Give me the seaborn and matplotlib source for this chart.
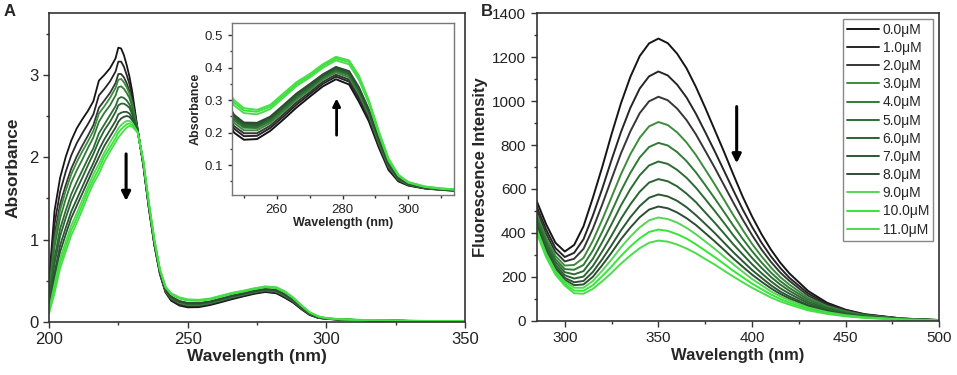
import pandas as pd
import matplotlib
matplotlib.use('Agg')
import matplotlib.pyplot as plt
from matplotlib.ticker import MultipleLocator
import seaborn as sns

# --- Titration series (one curve per concentration) ---
concentrations = ['0.0μM', '1.0μM', '2.0μM', '3.0μM', '4.0μM', '5.0μM',
                  '6.0μM', '7.0μM', '8.0μM', '9.0μM', '10.0μM', '11.0μM']
line_colors = ['#151515', '#262626', '#363636', '#3d8b3d', '#2f7a35', '#2e6b34',
               '#2b6332', '#2a5832', '#2d4d33', '#55d655', '#33e833', '#4add4a']

# --- Panel A: UV-vis absorbance, short-wave region (curves diverge) ---
uv_wl_short = [200, 202, 204, 206, 208, 210, 212, 214, 216, 218, 220, 222, 224,
               225, 226, 227, 228, 229, 230, 232]
uv_abs_short = [
    [0.50, 1.35, 1.75, 2.00, 2.20, 2.35, 2.46, 2.56, 2.68, 2.93, 3.00, 3.08, 3.20, 3.33, 3.32, 3.24, 3.12, 2.98, 2.80, 2.33],
    [0.44, 1.19, 1.58, 1.82, 2.02, 2.17, 2.29, 2.40, 2.52, 2.75, 2.83, 2.92, 3.04, 3.16, 3.16, 3.10, 3.00, 2.89, 2.73, 2.33],
    [0.38, 1.06, 1.43, 1.66, 1.86, 2.01, 2.14, 2.26, 2.39, 2.60, 2.69, 2.78, 2.90, 3.01, 3.01, 2.97, 2.90, 2.80, 2.67, 2.32],
    [0.36, 0.99, 1.36, 1.59, 1.79, 1.94, 2.07, 2.19, 2.32, 2.53, 2.62, 2.72, 2.84, 2.94, 2.95, 2.91, 2.85, 2.77, 2.65, 2.32],
    [0.32, 0.91, 1.26, 1.49, 1.69, 1.84, 1.97, 2.11, 2.24, 2.43, 2.54, 2.63, 2.75, 2.85, 2.86, 2.83, 2.78, 2.72, 2.61, 2.32],
    [0.27, 0.78, 1.13, 1.35, 1.55, 1.70, 1.84, 1.98, 2.11, 2.29, 2.40, 2.51, 2.62, 2.71, 2.73, 2.72, 2.69, 2.64, 2.56, 2.31],
    [0.24, 0.71, 1.04, 1.26, 1.46, 1.61, 1.75, 1.90, 2.04, 2.20, 2.33, 2.43, 2.55, 2.63, 2.65, 2.65, 2.63, 2.60, 2.52, 2.31],
    [0.20, 0.60, 0.93, 1.14, 1.34, 1.49, 1.64, 1.79, 1.93, 2.09, 2.22, 2.33, 2.44, 2.52, 2.54, 2.55, 2.55, 2.53, 2.48, 2.31],
    [0.17, 0.53, 0.85, 1.06, 1.26, 1.41, 1.56, 1.71, 1.86, 2.00, 2.14, 2.25, 2.36, 2.43, 2.47, 2.49, 2.50, 2.49, 2.45, 2.31],
    [0.14, 0.46, 0.77, 0.97, 1.17, 1.32, 1.48, 1.64, 1.79, 1.92, 2.06, 2.18, 2.29, 2.35, 2.39, 2.42, 2.44, 2.44, 2.42, 2.30],
    [0.12, 0.40, 0.71, 0.91, 1.11, 1.26, 1.42, 1.59, 1.73, 1.86, 2.01, 2.12, 2.23, 2.30, 2.34, 2.37, 2.40, 2.41, 2.39, 2.30],
    [0.10, 0.35, 0.65, 0.85, 1.05, 1.20, 1.36, 1.53, 1.68, 1.80, 1.95, 2.07, 2.18, 2.24, 2.28, 2.32, 2.36, 2.38, 2.37, 2.30],
]

# --- Panel A: long-wave region (also shown in the inset) ---
uv_wl_tail = [234, 236, 238, 240, 242, 244, 247, 250, 254, 258, 262, 266, 270, 274,
              278, 282, 285, 288, 291, 294, 297, 300, 305, 310, 316, 330, 350]
uv_abs_tail = [
    [1.90, 1.38, 0.93, 0.58, 0.36, 0.26, 0.200, 0.178, 0.180, 0.205, 0.240, 0.277, 0.310, 0.342, 0.364, 0.348, 0.295, 0.235, 0.155, 0.085, 0.050, 0.037, 0.028, 0.024, 0.020, 0.012, 0.008],
    [1.91, 1.39, 0.94, 0.59, 0.37, 0.27, 0.212, 0.189, 0.190, 0.214, 0.249, 0.286, 0.318, 0.350, 0.372, 0.357, 0.304, 0.243, 0.161, 0.089, 0.052, 0.038, 0.029, 0.024, 0.020, 0.012, 0.008],
    [1.91, 1.39, 0.94, 0.59, 0.37, 0.28, 0.220, 0.198, 0.198, 0.221, 0.256, 0.293, 0.324, 0.356, 0.378, 0.363, 0.311, 0.248, 0.165, 0.092, 0.054, 0.039, 0.029, 0.025, 0.021, 0.013, 0.008],
    [1.92, 1.40, 0.95, 0.60, 0.38, 0.29, 0.230, 0.207, 0.207, 0.229, 0.264, 0.301, 0.331, 0.363, 0.385, 0.370, 0.319, 0.255, 0.170, 0.096, 0.056, 0.040, 0.030, 0.025, 0.021, 0.013, 0.009],
    [1.92, 1.41, 0.96, 0.60, 0.39, 0.29, 0.238, 0.215, 0.214, 0.235, 0.270, 0.306, 0.336, 0.368, 0.390, 0.376, 0.325, 0.260, 0.174, 0.098, 0.058, 0.041, 0.030, 0.026, 0.022, 0.013, 0.009],
    [1.93, 1.41, 0.96, 0.61, 0.39, 0.30, 0.244, 0.220, 0.219, 0.240, 0.275, 0.311, 0.340, 0.372, 0.394, 0.380, 0.330, 0.263, 0.177, 0.100, 0.059, 0.042, 0.031, 0.026, 0.022, 0.013, 0.009],
    [1.93, 1.41, 0.96, 0.61, 0.39, 0.30, 0.248, 0.224, 0.223, 0.243, 0.278, 0.314, 0.343, 0.375, 0.397, 0.383, 0.333, 0.266, 0.179, 0.102, 0.060, 0.042, 0.031, 0.026, 0.022, 0.013, 0.009],
    [1.93, 1.42, 0.97, 0.61, 0.40, 0.31, 0.252, 0.229, 0.227, 0.247, 0.282, 0.318, 0.347, 0.377, 0.400, 0.387, 0.337, 0.269, 0.181, 0.103, 0.060, 0.043, 0.031, 0.026, 0.022, 0.014, 0.009],
    [1.93, 1.42, 0.97, 0.61, 0.40, 0.31, 0.255, 0.231, 0.230, 0.249, 0.284, 0.320, 0.349, 0.379, 0.402, 0.389, 0.339, 0.271, 0.183, 0.104, 0.061, 0.043, 0.031, 0.026, 0.022, 0.014, 0.009],
    [1.95, 1.44, 0.99, 0.63, 0.42, 0.34, 0.284, 0.260, 0.256, 0.272, 0.307, 0.343, 0.369, 0.399, 0.422, 0.410, 0.362, 0.290, 0.197, 0.114, 0.067, 0.046, 0.033, 0.027, 0.023, 0.015, 0.010],
    [1.96, 1.45, 1.00, 0.64, 0.43, 0.34, 0.293, 0.268, 0.264, 0.279, 0.314, 0.349, 0.375, 0.405, 0.428, 0.417, 0.369, 0.295, 0.201, 0.117, 0.069, 0.047, 0.034, 0.028, 0.024, 0.015, 0.010],
    [1.96, 1.45, 1.00, 0.64, 0.43, 0.35, 0.300, 0.275, 0.270, 0.285, 0.320, 0.355, 0.380, 0.410, 0.433, 0.422, 0.375, 0.300, 0.205, 0.120, 0.070, 0.048, 0.034, 0.028, 0.024, 0.015, 0.010],
]

# --- Panel B: fluorescence emission ---
fl_wl = [285, 290, 295, 300, 305, 310, 315, 320, 325, 330, 335, 340, 345, 350,
         355, 360, 365, 370, 375, 380, 385, 390, 395, 400, 405, 410, 415, 420,
         430, 440, 450, 460, 480, 500]
fl_int = [
    [545, 440, 355, 315, 345, 430, 560, 700, 850, 990, 1110, 1205, 1263, 1285, 1264, 1216, 1150, 1065, 970, 870, 770, 666, 565, 475, 395, 325, 265, 215, 135, 82, 50, 30, 10, 3],
    [521, 416, 331, 290, 309, 371, 479, 601, 733, 859, 969, 1057, 1113, 1135, 1117, 1075, 1017, 943, 859, 773, 684, 594, 507, 428, 356, 294, 241, 195, 124, 76, 48, 28, 10, 2],
    [503, 397, 313, 270, 282, 327, 419, 529, 646, 762, 862, 945, 999, 1020, 1004, 966, 914, 849, 774, 698, 618, 538, 461, 390, 325, 269, 220, 181, 114, 71, 45, 27, 9, 3],
    [485, 378, 295, 251, 254, 286, 364, 460, 563, 667, 758, 833, 885, 905, 891, 858, 812, 755, 689, 622, 552, 481, 414, 350, 294, 243, 199, 164, 104, 66, 42, 25, 9, 3],
    [470, 363, 280, 235, 232, 254, 320, 405, 497, 591, 673, 743, 791, 810, 798, 768, 727, 676, 618, 558, 496, 433, 373, 317, 266, 220, 181, 149, 96, 61, 38, 23, 8, 2],
    [457, 349, 267, 221, 211, 226, 282, 358, 440, 525, 599, 662, 707, 725, 714, 687, 651, 606, 554, 501, 446, 389, 336, 286, 241, 200, 165, 136, 87, 56, 36, 22, 7, 2],
    [444, 336, 254, 207, 192, 201, 249, 316, 388, 464, 530, 587, 629, 645, 635, 612, 579, 540, 493, 447, 398, 348, 302, 257, 217, 180, 148, 123, 79, 51, 32, 20, 7, 2],
    [433, 324, 243, 195, 175, 181, 222, 280, 344, 411, 471, 522, 560, 575, 566, 546, 517, 481, 441, 400, 356, 312, 271, 231, 196, 162, 133, 110, 71, 46, 29, 18, 6, 2],
    [424, 315, 234, 186, 162, 165, 200, 253, 310, 371, 424, 471, 506, 520, 512, 493, 467, 436, 399, 362, 323, 283, 246, 210, 178, 148, 122, 101, 66, 42, 27, 17, 6, 2],
    [417, 307, 227, 178, 150, 150, 181, 228, 279, 334, 383, 425, 457, 470, 463, 447, 423, 394, 361, 328, 292, 257, 223, 190, 162, 134, 111, 92, 60, 39, 25, 16, 6, 2],
    [408, 298, 218, 168, 137, 136, 162, 203, 247, 295, 338, 375, 404, 415, 409, 394, 374, 348, 319, 290, 259, 227, 198, 169, 144, 120, 99, 82, 54, 35, 22, 14, 5, 2],
    [400, 290, 210, 160, 125, 123, 145, 180, 218, 260, 297, 330, 355, 365, 360, 347, 329, 307, 281, 256, 228, 201, 175, 150, 128, 106, 88, 73, 47, 31, 20, 13, 4, 1],
]


def long_frame(wl, curves, value_name):
    rows = []
    for conc, ys in zip(concentrations, curves):
        for x, y in zip(wl, ys):
            rows.append((conc, x, y))
    return pd.DataFrame(rows, columns=['conc', 'wl', value_name])


uv_df = long_frame(uv_wl_short + uv_wl_tail,
                   [s + t for s, t in zip(uv_abs_short, uv_abs_tail)], 'abs')
fl_df = long_frame(fl_wl, fl_int, 'fl')

sns.set_style('ticks')
plt.rcParams['font.family'] = ['Liberation Sans', 'DejaVu Sans']


def style_axes(ax, labelsize=11.5, major=4, minor=2.2):
    for s in ax.spines.values():
        s.set_linewidth(1.2)
        s.set_color('#333333')
    ax.tick_params(which='major', direction='out', length=major, width=1,
                   labelsize=labelsize, colors='#333333', labelcolor='#222222')
    ax.tick_params(which='minor', direction='out', length=minor, width=1, colors='#333333')


fig = plt.figure(figsize=(9.57, 3.75), dpi=100)
ax_a = fig.add_axes([0.0512, 0.1413, 0.4347, 0.824])
ax_in = fig.add_axes([0.2421, 0.48, 0.2323, 0.4595])
ax_b = fig.add_axes([0.5608, 0.1448, 0.4207, 0.8197])

line_kw = dict(hue='conc', hue_order=concentrations, palette=line_colors,
               estimator=None, sort=False, legend=False)

# --- Panel A ---
sns.lineplot(data=uv_df, x='wl', y='abs', ax=ax_a, lw=1.3, **line_kw)
ax_a.set_xlim(200, 350)
ax_a.set_ylim(0, 3.75)
ax_a.xaxis.set_major_locator(MultipleLocator(50))
ax_a.xaxis.set_minor_locator(MultipleLocator(25))
ax_a.yaxis.set_major_locator(MultipleLocator(1))
ax_a.yaxis.set_minor_locator(MultipleLocator(0.5))
style_axes(ax_a, labelsize=12)
ax_a.set_xlabel('Wavelength (nm)', fontsize=12.5, fontweight='bold', labelpad=1)
ax_a.set_ylabel('Absorbance', fontsize=12.5, fontweight='bold', labelpad=6)
ax_a.annotate('', xy=(227.8, 1.47), xytext=(227.8, 2.04),
              arrowprops=dict(arrowstyle='-|>', color='black', lw=2.2,
                              mutation_scale=13, shrinkA=0, shrinkB=0))

# --- Inset ---
sns.lineplot(data=uv_df, x='wl', y='abs', ax=ax_in, lw=1.4, **line_kw)
ax_in.set_xlim(246.3, 313.9)
ax_in.set_ylim(0.008, 0.538)
ax_in.xaxis.set_major_locator(MultipleLocator(20))
ax_in.xaxis.set_minor_locator(MultipleLocator(10))
ax_in.yaxis.set_major_locator(MultipleLocator(0.1))
ax_in.yaxis.set_minor_locator(MultipleLocator(0.05))
style_axes(ax_in, labelsize=9.5, major=3, minor=1.8)
for s in ax_in.spines.values():
    s.set_color('#777777')
    s.set_linewidth(1.0)
ax_in.set_xlabel('Wavelength (nm)', fontsize=9, fontweight='bold', labelpad=1)
ax_in.set_ylabel('Absorbance', fontsize=9, fontweight='bold', labelpad=2)
ax_in.annotate('', xy=(278.2, 0.305), xytext=(278.2, 0.192),
               arrowprops=dict(arrowstyle='-|>', color='black', lw=2.0,
                               mutation_scale=11, shrinkA=0, shrinkB=0))

# --- Panel B ---
sns.lineplot(data=fl_df, x='wl', y='fl', ax=ax_b, lw=1.4, **line_kw)
ax_b.set_xlim(285, 500)
ax_b.set_ylim(0, 1400)
ax_b.xaxis.set_major_locator(MultipleLocator(50))
ax_b.xaxis.set_minor_locator(MultipleLocator(25))
ax_b.yaxis.set_major_locator(MultipleLocator(200))
ax_b.yaxis.set_minor_locator(MultipleLocator(100))
style_axes(ax_b, labelsize=11)
ax_b.set_xlabel('Wavelength (nm)', fontsize=12, fontweight='bold', labelpad=2)
ax_b.set_ylabel('Fluorescence Intensity', fontsize=12, fontweight='bold', labelpad=3)
ax_b.annotate('', xy=(391.8, 717), xytext=(391.8, 975),
              arrowprops=dict(arrowstyle='-|>', color='black', lw=2.2,
                              mutation_scale=13, shrinkA=0, shrinkB=0))

leg = ax_b.legend(ax_b.get_lines()[:len(concentrations)], concentrations,
                  loc='upper right', bbox_to_anchor=(0.985, 0.983), borderaxespad=0,
                  fontsize=10, labelspacing=0.3, handlelength=2.3, handletextpad=0.25,
                  borderpad=0.3, fancybox=False, framealpha=1, edgecolor='#888888')
leg.get_frame().set_linewidth(1.0)

# --- Panel letters ---
fig.text(0.004, 0.99, 'A', fontsize=12, fontweight='bold', va='top')
fig.text(0.503, 0.99, 'B', fontsize=12, fontweight='bold', va='top')

fig.savefig('out.png', dpi=100)
plt.close(fig)
